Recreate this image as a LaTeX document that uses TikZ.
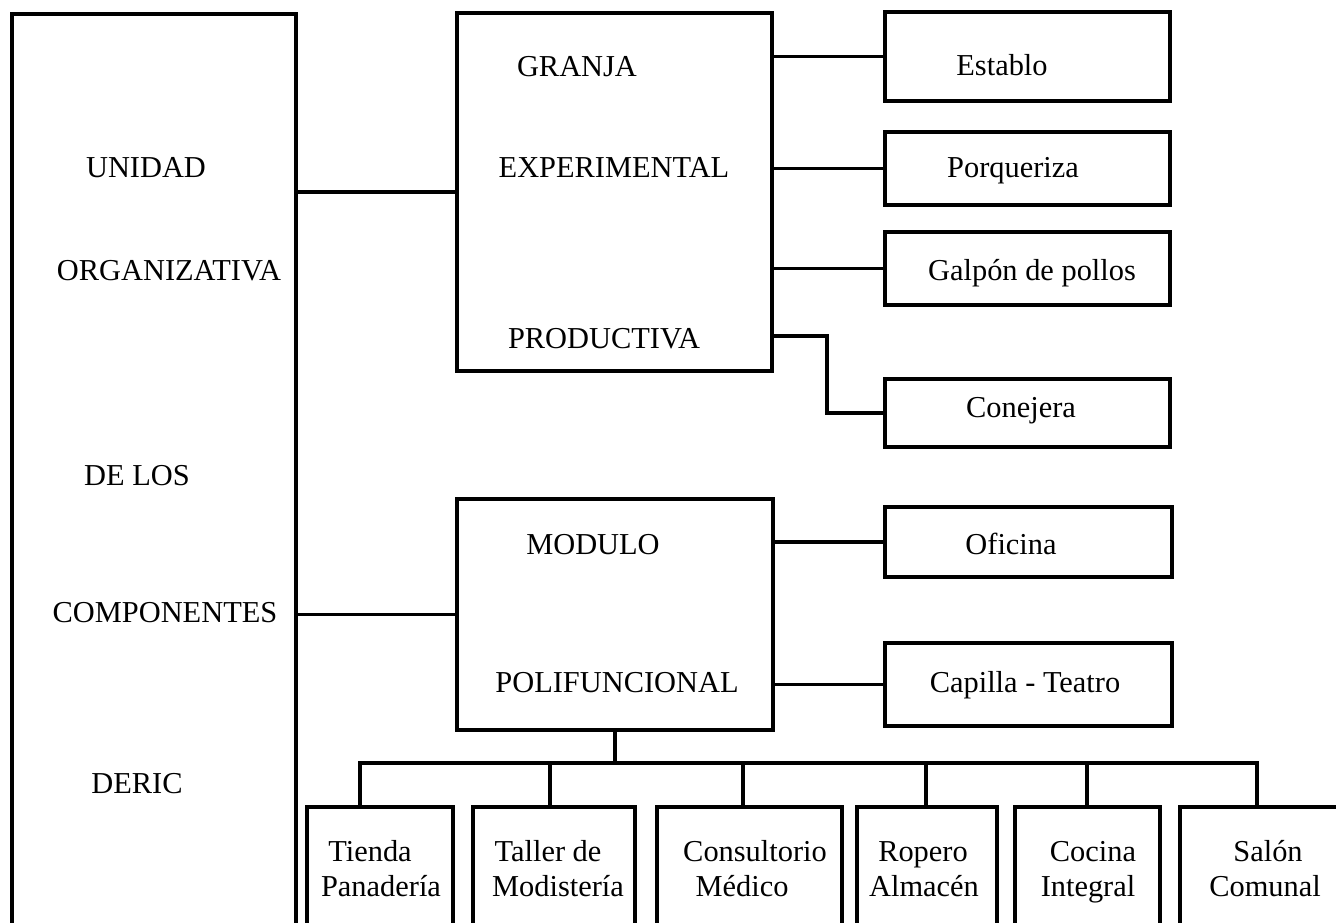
\documentclass[tikz,border=0pt]{standalone}
\usepackage{fontspec}
\setmainfont{Liberation Serif}
\usetikzlibrary{fit}
\begin{document}
\begin{tikzpicture}[x=0.5pt,y=-0.5pt,
  box/.style={draw, line width=1.8pt, inner sep=0pt},
  conn/.style={draw, line width=1.8pt},
  lbl/.style={anchor=base, inner sep=0pt, font=\fontsize{15.2pt}{18pt}\selectfont}]
\useasboundingbox (0,0) rectangle (1336,922);
% main boxes
\node[box, fit={(12,14)(296,960)}] (unidad) {};
\node[box, fit={(457,13)(772,371)}] (granja) {};
\node[box, fit={(457,499)(773,730)}] (modulo) {};
% right boxes
\node[box, fit={(885,12)(1170,101)}] (establo) {};
\node[box, fit={(885,132)(1170,205)}] (porq) {};
\node[box, fit={(885,232)(1170,305)}] (galpon) {};
\node[box, fit={(885,379)(1170,447)}] (conej) {};
\node[box, fit={(885,507)(1172,577)}] (oficina) {};
\node[box, fit={(885,643)(1172,726)}] (capilla) {};
% bottom boxes
\node[box, fit={(307,807)(453,960)}] (b1) {};
\node[box, fit={(473,807)(635,960)}] (b2) {};
\node[box, fit={(657,807)(842,960)}] (b3) {};
\node[box, fit={(857,807)(997,960)}] (b4) {};
\node[box, fit={(1015,807)(1160,960)}] (b5) {};
\node[box, fit={(1180,807)(1360,960)}] (b6) {};
% texts
\node[lbl] (u1) at (146,177) {UNIDAD};
\node[lbl] (u2) at (169,280) {ORGANIZATIVA};
\node[lbl] (u3) at (137,485) {DE LOS};
\node[lbl] (u4) at (165,622) {COMPONENTES};
\node[lbl] (u5) at (137,793) {DERIC};
\node[lbl] (g1) at (577,76) {GRANJA};
\node[lbl] (g2) at (614,177) {EXPERIMENTAL};
\node[lbl] (g3) at (604,348) {PRODUCTIVA};
\node[lbl] (m1) at (593,554) {MODULO};
\node[lbl] (m2) at (617,692) {POLIFUNCIONAL};
\node[lbl] (t1) at (1002,75) {Establo};
\node[lbl] (t2) at (1013,177) {Porqueriza};
\node[lbl] (t3) at (1032,280) {Galpón de pollos};
\node[lbl] (t4) at (1021,417) {Conejera};
\node[lbl] (t5) at (1011,554) {Oficina};
\node[lbl] (t6) at (1025,692) {Capilla - Teatro};
\node[lbl] (s1a) at (370,861) {Tienda};
\node[lbl] (s1b) at (381,896) {Panadería};
\node[lbl] (s2a) at (548,861) {Taller de};
\node[lbl] (s2b) at (558,896) {Modistería};
\node[lbl] (s3a) at (755,861) {Consultorio};
\node[lbl] (s3b) at (742,896) {Médico};
\node[lbl] (s4a) at (923,861) {Ropero};
\node[lbl] (s4b) at (924,896) {Almacén};
\node[lbl] (s5a) at (1093,861) {Cocina};
\node[lbl] (s5b) at (1088,896) {Integral};
\node[lbl] (s6a) at (1268,861) {Salón};
\node[lbl] (s6b) at (1265,896) {Comunal};
% connectors
\draw[conn] (unidad.east |- granja.west) -- (granja.west);
\draw[conn] (unidad.east |- modulo.west) -- (modulo.west);
\draw[conn] (granja.east |- establo.west) -- (establo.west);
\draw[conn] (granja.east |- porq.west) -- (porq.west);
\draw[conn] (granja.east |- galpon.west) -- (galpon.west);
\coordinate (pk) at (827,336);
\draw[conn] (granja.east |- pk) -- (pk) |- (conej.west);
\draw[conn] (modulo.east |- oficina.west) -- (oficina.west);
\draw[conn] (modulo.east |- capilla.west) -- (capilla.west);
% bottom tree
\coordinate (bus) at (612,763);
\coordinate (d1) at (360,763);
\coordinate (d2) at (550,763);
\coordinate (d3) at (743,763);
\coordinate (d4) at (926,763);
\coordinate (d5) at (1087,763);
\coordinate (d6) at (1257,763);
\draw[conn] (modulo.south) -- (modulo.south |- bus);
\draw[conn] (d1 |- b1.north) -- (d1) -- (d6) -- (d6 |- b6.north);
\draw[conn] (d2) -- (d2 |- b2.north);
\draw[conn] (d3) -- (d3 |- b3.north);
\draw[conn] (d4) -- (d4 |- b4.north);
\draw[conn] (d5) -- (d5 |- b5.north);
\end{tikzpicture}
\end{document}
